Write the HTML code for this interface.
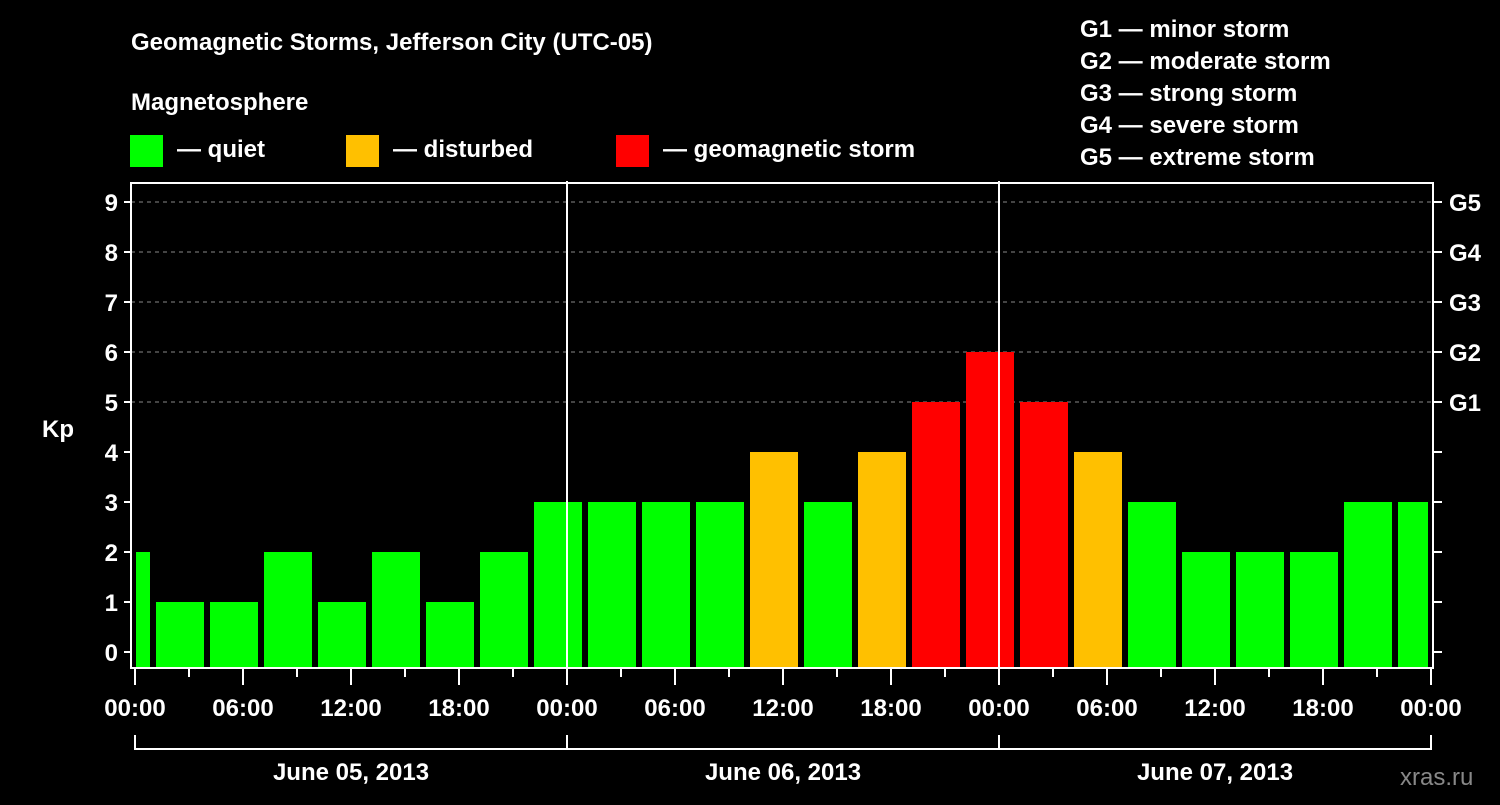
<!DOCTYPE html>
<html><head><meta charset="utf-8"><style>
body{margin:0;background:#000;}
svg text{font-family:"Liberation Sans",sans-serif;font-weight:bold;fill:#fff;}
</style></head><body>
<svg id="chart" width="1500" height="800" xmlns="http://www.w3.org/2000/svg">
<rect width="1500" height="800" fill="#000"/>
<text x="131" y="50" font-size="24">Geomagnetic Storms, Jefferson City (UTC-05)</text>
<text x="131" y="110" font-size="24">Magnetosphere</text>
<g><rect x="130" y="135" width="33" height="32" fill="#00ff00"/><text x="177" y="157" font-size="24">— quiet</text></g>
<g><rect x="346" y="135" width="33" height="32" fill="#ffc000"/><text x="393" y="157" font-size="24">— disturbed</text></g>
<g><rect x="616" y="135" width="33" height="32" fill="#ff0000"/><text x="663" y="157" font-size="24">— geomagnetic storm</text></g>
<g font-size="24">
<text x="1080" y="37">G1 — minor storm</text>
<text x="1080" y="69">G2 — moderate storm</text>
<text x="1080" y="101">G3 — strong storm</text>
<text x="1080" y="133">G4 — severe storm</text>
<text x="1080" y="165">G5 — extreme storm</text>
</g>
<text x="42" y="437" font-size="24">Kp</text>
<text x="1400" y="785" font-size="24" fill="#888" style="fill:#888;font-weight:normal">xras.ru</text>
<g id="plot"></g>
</svg>
<script>
const kpValues=[2,1,1,2,1,2,1,2,3,3,3,3,4,3,4,5,6,5,4,3,2,2,2,3,3];
const yTicks=[0,1,2,3,4,5,6,7,8,9];
const gLabels=["G1","G2","G3","G4","G5"];
const timeLabels=["00:00","06:00","12:00","18:00","00:00","06:00","12:00","18:00","00:00","06:00","12:00","18:00","00:00"];
const dayLabels=["June 05, 2013","June 06, 2013","June 07, 2013"];
const NS="http://www.w3.org/2000/svg";
const g=document.getElementById('plot');
const L=131,R=1433,T=183,B=668,X0=135,HPX=18;
const y=v=>652-50*v;
const x=h=>X0+h*HPX;
function mk(t,a){const e=document.createElementNS(NS,t);for(const k in a)e.setAttribute(k,a[k]);g.appendChild(e);return e;}
// grid
yTicks.forEach(v=>{
 if(v>=5){const l=mk('line',{x1:L,x2:R,y1:y(v),y2:y(v),stroke:'#888','stroke-dasharray':'4,4'});
 
 }
});
// bars
kpValues.forEach((v,i)=>{
 let s=x(-2+3*i)+3,e=x(1+3*i)-3;
 s=Math.max(s,L+5);e=Math.min(e,R-5);
 const c=v>=5?'#ff0000':v>=4?'#ffc000':'#00ff00';
 const r=mk('rect',{x:s,y:y(v),width:e-s,height:B-1-y(v),fill:c});
 
 
});
// frame
const f=mk('rect',{x:L,y:T,width:R-L,height:B-T,fill:'none',stroke:'#fff','stroke-width':2});


[1,2].forEach(d=>{const l=mk('line',{x1:x(24*d),x2:x(24*d),y1:181,y2:B,stroke:'#fff','stroke-width':2});
 
 });
// y ticks
yTicks.forEach(v=>{
 mk('line',{x1:L-7,x2:L,y1:y(v),y2:y(v),stroke:'#fff','stroke-width':2});
 mk('line',{x1:R,x2:R+9,y1:y(v),y2:y(v),stroke:'#fff','stroke-width':2});
 const t=mk('text',{x:L-13,y:y(v)+9,'text-anchor':'end','font-size':24});t.textContent=v;
 
 
});
gLabels.forEach((s,i)=>{const t=mk('text',{x:1449,y:y(5+i)+9,'font-size':24});t.textContent=s;
 
 });
// x ticks
for(let h=0;h<=72;h+=3){const maj=h%6==0;mk('line',{x1:x(h),x2:x(h),y1:B,y2:maj?685:677,stroke:'#fff','stroke-width':2});}
timeLabels.forEach((s,i)=>{const t=mk('text',{x:x(6*i),y:716,'text-anchor':'middle','font-size':24});t.textContent=s;
 
 });
dayLabels.forEach((s,i)=>{
 mk('polyline',{points:`${x(24*i)},735 ${x(24*i)},749 ${x(24*i+24)},749 ${x(24*i+24)},735`,fill:'none',stroke:'#fff','stroke-width':2});
 const t=mk('text',{x:x(24*i+12),y:780,'text-anchor':'middle','font-size':24});t.textContent=s;
 
 
});
</script>
</body></html>
